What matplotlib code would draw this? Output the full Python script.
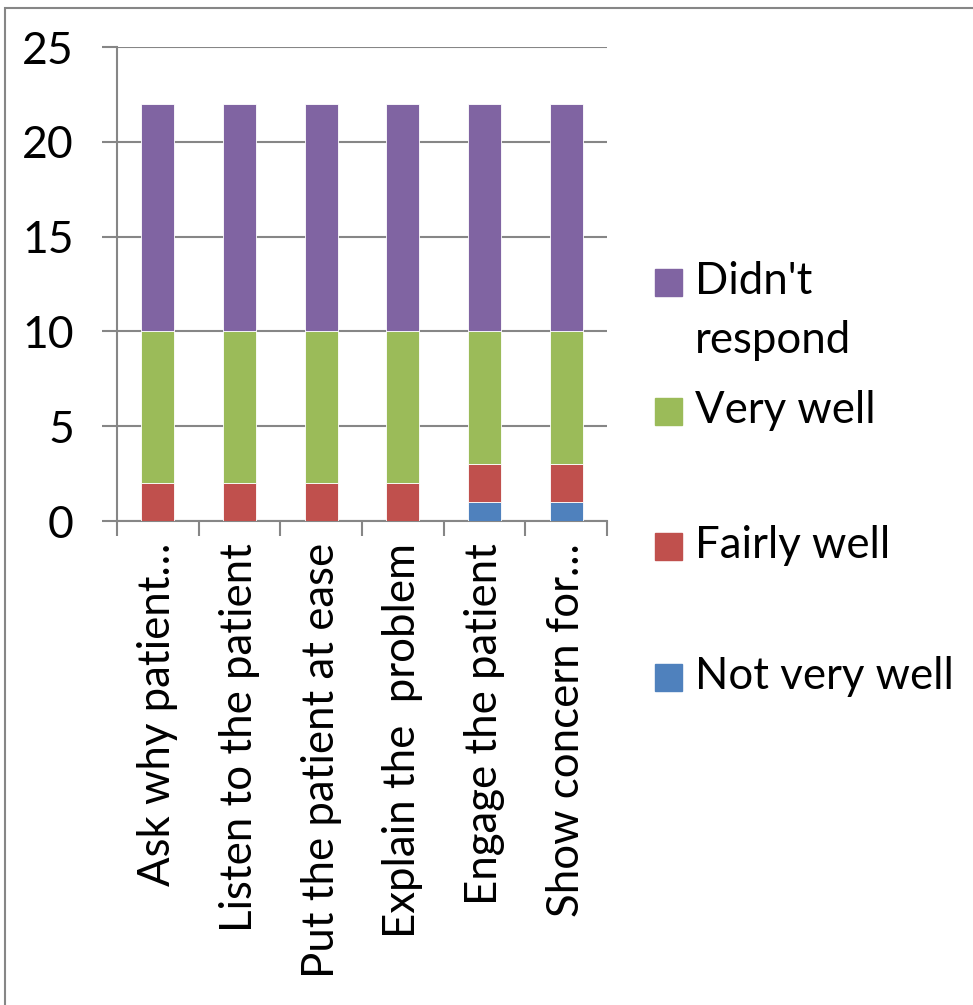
import matplotlib.pyplot as plt
import numpy as np
from matplotlib.patches import Rectangle

categories = ['Ask why patient\u2026', 'Listen to the patient', 'Put the patient at ease',
              'Explain the  problem', 'Engage the patient', 'Show concern for\u2026']
not_very_well = [0, 0, 0, 0, 1, 1]
fairly_well = [2, 2, 2, 2, 2, 2]
very_well = [8, 8, 8, 8, 7, 7]
didnt_respond = [12, 12, 12, 12, 12, 12]

series = [('Not very well', not_very_well, '#4F81BD'),
          ('Fairly well', fairly_well, '#C0504D'),
          ('Very well', very_well, '#9BBB59'),
          ("Didn't\nrespond", didnt_respond, '#8064A2')]

plt.rcParams['font.family'] = ['Lato', 'DejaVu Sans']
W, H = 973, 1005
fig = plt.figure(figsize=(W/100, H/100), dpi=100)
ax = fig.add_axes([117/W, 1-521/H, (607-117)/W, (521-47)/H])

grey = '#868686'
x = np.arange(len(categories))
bottom = np.zeros(len(categories))
for name, vals, col in series:
    ax.bar(x, vals, 0.4, bottom=bottom, color=col, edgecolor='white', linewidth=0.6, zorder=3)
    bottom += np.array(vals)

ax.set_xlim(-0.5, 5.5)
ax.set_ylim(0, 25)
ax.set_yticks([0, 5, 10, 15, 20, 25])
ax.yaxis.grid(True, color=grey, linewidth=1.5, zorder=0)
ax.set_axisbelow(True)
for s in ['top', 'right']:
    ax.spines[s].set_visible(False)
for s in ['left', 'bottom']:
    ax.spines[s].set_color(grey)
    ax.spines[s].set_linewidth(1.5)
ax.tick_params(axis='y', length=11, width=1.5, color=grey, pad=20, labelsize=32)
ax.set_xticks(x)
ax.set_xticklabels(categories, rotation=90, fontsize=31.5)
ax.tick_params(axis='x', which='major', length=0, pad=16)
ax.set_xticks(np.arange(-0.5, 6, 1), minor=True)
ax.tick_params(axis='x', which='minor', length=11, width=1.5, color=grey)

# legend drawn at right, reversed order
leg_y = [283, 412, 547, 678]
for (name, vals, col), yy in zip(series[::-1], leg_y):
    fig.patches.append(Rectangle((655/W, 1-(yy+13)/H), 27/W, 27/H, color=col,
                                 transform=fig.transFigure))
    fig.text(695/W, 1-(yy-22)/H, name, fontsize=31.5, va='top', ha='left', linespacing=1.55)

# chart border
fig.patches.append(Rectangle((5/W, -0.05), 1.1, 1-8/H+0.05, fill=False,
                             edgecolor=grey, linewidth=1.5, transform=fig.transFigure))

fig.savefig('out.png', dpi=100)
